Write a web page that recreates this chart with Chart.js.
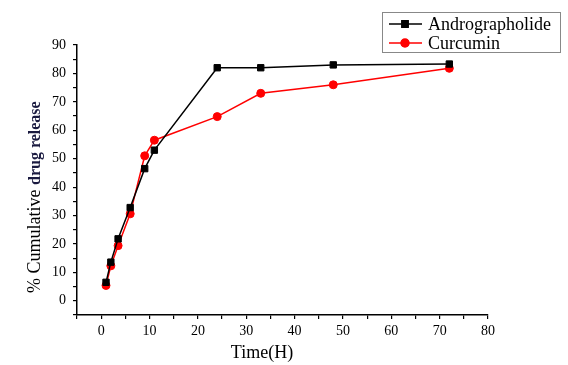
<!DOCTYPE html>
<html>
<head>
<meta charset="utf-8">
<script src="https://cdn.jsdelivr.net/npm/chart.js@4/dist/chart.umd.min.js"></script>
<style>
  html, body { margin: 0; padding: 0; background: #fff; }
  #wrap { width: 568px; height: 365px; }
</style>
</head>
<body>
<div id="wrap"><canvas id="release-chart" width="568" height="365"></canvas></div>
<script>
// Sampling times (hours)
const times = [1, 2, 3.5, 6, 9, 11, 24, 33, 48, 72];
// % cumulative drug release for each series
const andrographolide = [6.5, 13.6, 21.8, 32.8, 46.5, 53, 82, 82, 83, 83.3];
const curcumin = [5.4, 12.3, 19.4, 30.6, 51, 56.5, 64.8, 73, 76, 81.8];
// Axis ranges and label steps
const xRange = [-5, 80];
const yRange = [-5, 90];
const tickStep = 5;
const labelStep = 10;

const serif = "'Liberation Serif', 'DejaVu Serif', serif";

function toPoints(values) {
  return times.map((t, i) => ({ x: t, y: values[i] }));
}

function tickLabel(value) {
  return (value >= 0 && value % labelStep === 0) ? value : '';
}

// axis titles + boxed legend, drawn on top of the chart
const decorations = {
  id: 'decorations',
  afterDraw(chart) {
    const ctx = chart.ctx;
    ctx.save();

    // y title: "% Cumulative" regular, "drug release" bold
    ctx.translate(40, 293);
    ctx.rotate(-Math.PI / 2);
    ctx.textBaseline = 'alphabetic';
    ctx.textAlign = 'left';
    ctx.fillStyle = '#000';
    ctx.font = '18px ' + serif;
    const first = '% Cumulative ';
    ctx.fillText(first, 0, 0);
    const w1 = ctx.measureText(first).width;
    ctx.font = 'bold 16px ' + serif;
    ctx.fillStyle = '#1a1a40';
    ctx.fillText('drug release', w1, 0);
    ctx.restore();

    // x title
    ctx.save();
    ctx.font = '18px ' + serif;
    ctx.fillStyle = '#000';
    ctx.textAlign = 'center';
    ctx.textBaseline = 'alphabetic';
    ctx.fillText('Time(H)', 262, 358);
    ctx.restore();

    // legend box
    ctx.save();
    ctx.strokeStyle = '#888';
    ctx.lineWidth = 1;
    ctx.strokeRect(382.5, 12.5, 178, 40);
    chart.data.datasets.forEach((ds, i) => {
      const y = 24 + i * 19;
      ctx.strokeStyle = ds.borderColor;
      ctx.lineWidth = 1.5;
      ctx.beginPath();
      ctx.moveTo(389, y);
      ctx.lineTo(422, y);
      ctx.stroke();
      Chart.helpers.drawPoint(ctx, {
        pointStyle: ds.pointStyle,
        radius: ds.pointRadius,
        borderWidth: 1
      }, 405, y);
      ctx.fillStyle = ds.backgroundColor;
      ctx.fill();
      ctx.fillStyle = '#000';
      ctx.font = '18px ' + serif;
      ctx.textBaseline = 'middle';
      ctx.fillText(ds.label, 428, y + 1);
    });
    ctx.restore();
  }
};

const axisCommon = {
  type: 'linear',
  grid: {
    drawOnChartArea: false,
    drawTicks: true,
    tickLength: 4,
    color: '#000',
    lineWidth: 1.2
  },
  border: { display: true, color: '#000', width: 1.5 },
  ticks: {
    stepSize: tickStep,
    autoSkip: false,
    maxRotation: 0,
    color: '#000',
    font: { family: serif, size: 14 },
    callback: tickLabel
  }
};

new Chart(document.getElementById('release-chart'), {
  type: 'line',
  data: {
    datasets: [
      {
        label: 'Andrographolide',
        data: toPoints(andrographolide),
        borderColor: '#000',
        backgroundColor: '#000',
        borderWidth: 1.5,
        pointStyle: 'rect',
        pointRadius: 4.5,
        pointBorderWidth: 1,
        tension: 0
      },
      {
        label: 'Curcumin',
        data: toPoints(curcumin),
        borderColor: '#ff0000',
        backgroundColor: '#ff0000',
        borderWidth: 1.5,
        pointStyle: 'circle',
        pointRadius: 4,
        pointBorderWidth: 1,
        tension: 0
      }
    ]
  },
  options: {
    responsive: false,
    animation: false,
    layout: { padding: { top: 45, right: 80, left: 0, bottom: 0 } },
    plugins: {
      legend: { display: false },
      tooltip: { enabled: false }
    },
    scales: {
      x: Object.assign({}, axisCommon, {
        min: xRange[0],
        max: xRange[1],
        ticks: Object.assign({}, axisCommon.ticks, { padding: 4 }),
        afterFit(scale) { scale.height = 50; }
      }),
      y: Object.assign({}, axisCommon, {
        min: yRange[0],
        max: yRange[1],
        ticks: Object.assign({}, axisCommon.ticks, { padding: 7 }),
        afterFit(scale) { scale.width = 77; }
      })
    }
  },
  plugins: [decorations]
});
</script>
</body>
</html>
